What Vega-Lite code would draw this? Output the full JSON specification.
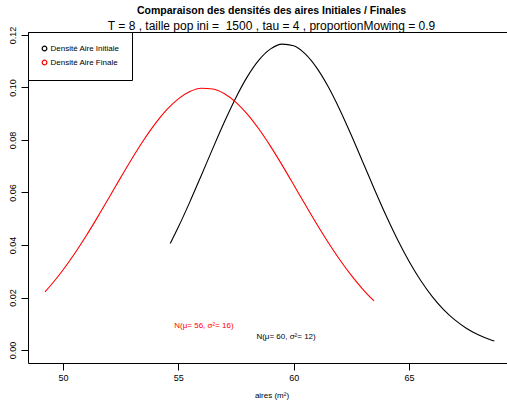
{
  "$schema": "https://vega.github.io/schema/vega-lite/v6.json",
  "autosize": {"type": "none"},
  "padding": {"left": 28, "top": 32, "right": 0, "bottom": 39},
  "width": 487,
  "height": 331,
  "background": "white",
  "title": {
    "text": "Comparaison des densités des aires Initiales / Finales",
    "subtitle": "T = 8 , taille pop ini = \u00a01500 , tau = 4 , proportionMowing = 0.9",
    "anchor": "middle",
    "font": "Liberation Sans",
    "fontSize": 10.5,
    "fontWeight": "bold",
    "color": "black",
    "subtitleFont": "Liberation Sans",
    "subtitleFontSize": 12,
    "subtitleColor": "black",
    "subtitlePadding": 4,
    "offset": -5.5
  },
  "config": {
    "view": {"stroke": "black", "strokeWidth": 1},
    "font": "Liberation Sans",
    "axis": {
      "grid": false,
      "domain": false,
      "tickColor": "black",
      "tickSize": 7,
      "labelColor": "black",
      "labelFont": "Liberation Sans",
      "labelFontSize": 9,
      "titleFont": "Liberation Sans",
      "titleFontWeight": "normal",
      "titleColor": "black",
      "titleFontSize": 8
    }
  },
  "datasets": {
    "curves": [
      {"curve": "Densité Aire Initiale", "x": 54.65, "y": 0.04057},
      {"curve": "Densité Aire Initiale", "x": 55.0, "y": 0.04682},
      {"curve": "Densité Aire Initiale", "x": 55.5, "y": 0.05643},
      {"curve": "Densité Aire Initiale", "x": 56.0, "y": 0.06659},
      {"curve": "Densité Aire Initiale", "x": 56.5, "y": 0.07691},
      {"curve": "Densité Aire Initiale", "x": 57.0, "y": 0.08695},
      {"curve": "Densité Aire Initiale", "x": 57.5, "y": 0.09622},
      {"curve": "Densité Aire Initiale", "x": 58.0, "y": 0.10423},
      {"curve": "Densité Aire Initiale", "x": 58.5, "y": 0.11051},
      {"curve": "Densité Aire Initiale", "x": 59.0, "y": 0.11470},
      {"curve": "Densité Aire Initiale", "x": 59.5, "y": 0.11653},
      {"curve": "Densité Aire Initiale", "x": 60.0, "y": 0.11588},
      {"curve": "Densité Aire Initiale", "x": 60.5, "y": 0.11280},
      {"curve": "Densité Aire Initiale", "x": 61.0, "y": 0.10748},
      {"curve": "Densité Aire Initiale", "x": 61.5, "y": 0.10025},
      {"curve": "Densité Aire Initiale", "x": 62.0, "y": 0.09152},
      {"curve": "Densité Aire Initiale", "x": 62.5, "y": 0.08179},
      {"curve": "Densité Aire Initiale", "x": 63.0, "y": 0.07155},
      {"curve": "Densité Aire Initiale", "x": 63.5, "y": 0.06126},
      {"curve": "Densité Aire Initiale", "x": 64.0, "y": 0.05134},
      {"curve": "Densité Aire Initiale", "x": 64.5, "y": 0.04212},
      {"curve": "Densité Aire Initiale", "x": 65.0, "y": 0.03383},
      {"curve": "Densité Aire Initiale", "x": 65.5, "y": 0.02659},
      {"curve": "Densité Aire Initiale", "x": 66.0, "y": 0.02046},
      {"curve": "Densité Aire Initiale", "x": 66.5, "y": 0.01541},
      {"curve": "Densité Aire Initiale", "x": 67.0, "y": 0.01136},
      {"curve": "Densité Aire Initiale", "x": 67.5, "y": 0.00820},
      {"curve": "Densité Aire Initiale", "x": 68.0, "y": 0.00579},
      {"curve": "Densité Aire Initiale", "x": 68.5, "y": 0.00401},
      {"curve": "Densité Aire Initiale", "x": 68.7, "y": 0.00344},
      {"curve": "Densité Aire Finale", "x": 49.22, "y": 0.02216},
      {"curve": "Densité Aire Finale", "x": 49.5, "y": 0.02495},
      {"curve": "Densité Aire Finale", "x": 50.0, "y": 0.03049},
      {"curve": "Densité Aire Finale", "x": 50.5, "y": 0.03667},
      {"curve": "Densité Aire Finale", "x": 51.0, "y": 0.04343},
      {"curve": "Densité Aire Finale", "x": 51.5, "y": 0.05063},
      {"curve": "Densité Aire Finale", "x": 52.0, "y": 0.05811},
      {"curve": "Densité Aire Finale", "x": 52.5, "y": 0.06567},
      {"curve": "Densité Aire Finale", "x": 53.0, "y": 0.07305},
      {"curve": "Densité Aire Finale", "x": 53.5, "y": 0.08000},
      {"curve": "Densité Aire Finale", "x": 54.0, "y": 0.08626},
      {"curve": "Densité Aire Finale", "x": 54.5, "y": 0.09157},
      {"curve": "Densité Aire Finale", "x": 55.0, "y": 0.09569},
      {"curve": "Densité Aire Finale", "x": 55.5, "y": 0.09845},
      {"curve": "Densité Aire Finale", "x": 56.0, "y": 0.09972},
      {"curve": "Densité Aire Finale", "x": 56.5, "y": 0.09944},
      {"curve": "Densité Aire Finale", "x": 57.0, "y": 0.09762},
      {"curve": "Densité Aire Finale", "x": 57.5, "y": 0.09435},
      {"curve": "Densité Aire Finale", "x": 58.0, "y": 0.08978},
      {"curve": "Densité Aire Finale", "x": 58.5, "y": 0.08410},
      {"curve": "Densité Aire Finale", "x": 59.0, "y": 0.07757},
      {"curve": "Densité Aire Finale", "x": 59.5, "y": 0.07042},
      {"curve": "Densité Aire Finale", "x": 60.0, "y": 0.06295},
      {"curve": "Densité Aire Finale", "x": 60.5, "y": 0.05540},
      {"curve": "Densité Aire Finale", "x": 61.0, "y": 0.04800},
      {"curve": "Densité Aire Finale", "x": 61.5, "y": 0.04094},
      {"curve": "Densité Aire Finale", "x": 62.0, "y": 0.03438},
      {"curve": "Densité Aire Finale", "x": 62.5, "y": 0.02842},
      {"curve": "Densité Aire Finale", "x": 63.0, "y": 0.02313},
      {"curve": "Densité Aire Finale", "x": 63.48, "y": 0.01870}
    ],
    "notes": [
      {"curve": "Densité Aire Finale", "label": "N(μ= 56, σ²= 16)", "x": 56.11, "y": 0.0091},
      {"curve": "Densité Aire Initiale", "label": "N(μ= 60, σ²= 12)", "x": 59.67, "y": 0.0049}
    ]
  },
  "layer": [
    {
      "data": {"name": "curves"},
      "mark": {"type": "line", "strokeWidth": 1.1, "interpolate": "monotone", "clip": true},
      "encoding": {
        "x": {
          "field": "x", "type": "quantitative",
          "scale": {"domain": [48.483, 69.595], "nice": false, "zero": false},
          "axis": {"values": [50, 55, 60, 65], "title": "aires (m²)", "labelPadding": 3, "titlePadding": 9}
        },
        "y": {
          "field": "y", "type": "quantitative",
          "scale": {"domain": [-0.00495, 0.12114], "nice": false, "zero": false},
          "axis": {"values": [0, 0.02, 0.04, 0.06, 0.08, 0.1, 0.12], "format": ".2f", "title": null,
                   "labelAngle": -90, "labelAlign": "center", "labelBaseline": "bottom", "labelPadding": 4}
        },
        "color": {
          "field": "curve", "type": "nominal",
          "scale": {"domain": ["Densité Aire Initiale", "Densité Aire Finale"], "range": ["#000000", "#ff0000"]},
          "legend": {
            "title": null,
            "orient": "top-left",
            "offset": 0,
            "padding": 12.5,
            "rowPadding": 4,
            "strokeColor": "black",
            "fillColor": "white",
            "symbolType": "circle",
            "symbolSize": 22,
            "symbolStrokeWidth": 1.2,
            "symbolFillColor": "transparent",
            "labelFont": "Liberation Sans",
            "labelFontSize": 8,
            "labelColor": "black",
            "labelOffset": 2,
            "labelExpr": "datum.label + '  '"
          }
        },
        "detail": {"field": "curve"}
      }
    },
    {
      "data": {"name": "notes"},
      "transform": [{"filter": "datum.curve == 'Densité Aire Finale'"}],
      "mark": {"type": "text", "color": "#ff0000", "font": "Liberation Sans", "fontSize": 8},
      "encoding": {
        "x": {"field": "x", "type": "quantitative"},
        "y": {"field": "y", "type": "quantitative"},
        "text": {"field": "label"}
      }
    },
    {
      "data": {"name": "notes"},
      "transform": [{"filter": "datum.curve == 'Densité Aire Initiale'"}],
      "mark": {"type": "text", "color": "#000000", "font": "Liberation Sans", "fontSize": 8},
      "encoding": {
        "x": {"field": "x", "type": "quantitative"},
        "y": {"field": "y", "type": "quantitative"},
        "text": {"field": "label"}
      }
    }
  ]
}
